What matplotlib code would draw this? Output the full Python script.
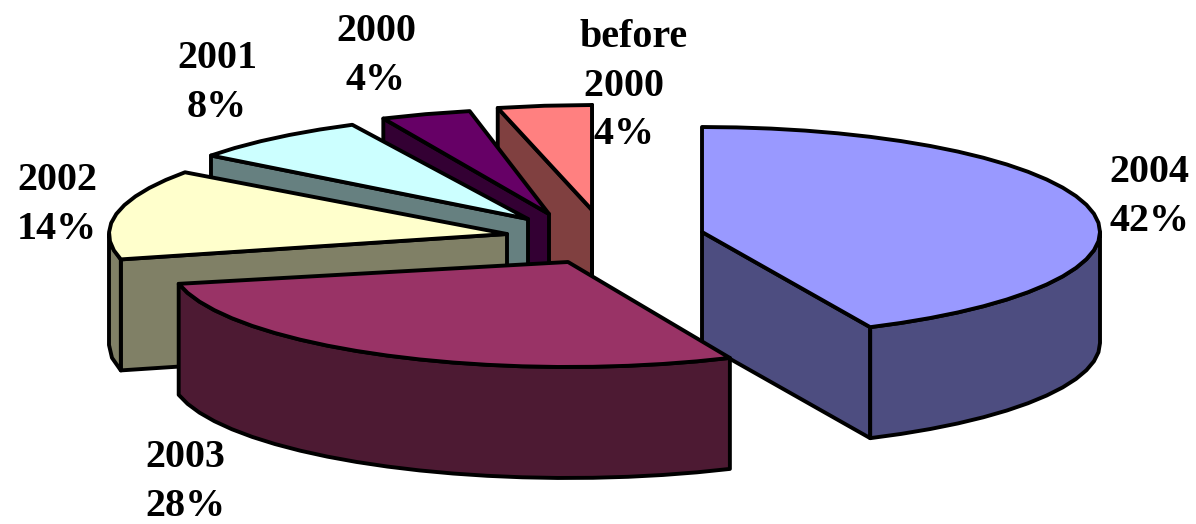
import numpy as np
import matplotlib
matplotlib.use("Agg")
import matplotlib.pyplot as plt
from matplotlib.patches import Polygon

years = ["2004", "2003", "2002", "2001", "2000", "before\n2000  "]
shares = [42, 28, 14, 8, 4, 4]
pct_labels = ["42%", "28%", "14%", "8%", "4%", "4%  "]

top_colors = ["#9999FF", "#993366", "#FFFFCC", "#CCFFFF", "#660066", "#FF8080"]
side_colors = ["#4D4D80", "#4D1A33", "#808066", "#668080", "#330033", "#804040"]

# pie geometry in pixels
cx, cy = 609, 239
rx, ry = 398, 105
depth = 111
shift_x = [93, -41, -102, -81, -60, -17]
shift_y = [-7, 23, -5, -20, -25, -29]
label_x = [1149, 185, 57, 217, 376, 634]
label_y = [197, 482, 205, 83, 56, 86]
draw_order = [5, 4, 3, 2, 0, 1]

# the 3d view bends the angles a bit, degrees added to each slice's ends
start_nudge = [0, 4.8, 4, 4.8, 4.2, 0.7]
end_nudge = [3.8, 6, 3.6, 2.6, 2.9, 0]

fig = plt.figure(figsize=(11.96, 5.24), dpi=100)
ax = fig.add_axes([0, 0, 1, 1])
ax.set_xlim(0, 1196)
ax.set_ylim(524, 0)
ax.axis("off")

edges = np.cumsum([0] + shares) * 3.6


def arc(x0, y0, t0, t1):
    n = max(2, int((t1 - t0) / 5) + 1)
    t = np.radians(np.linspace(t0, t1, n))
    return np.column_stack([x0 + rx * np.sin(t), y0 - ry * np.cos(t)])


def add_poly(pts, color, z):
    ax.add_patch(Polygon(pts, closed=True, facecolor=color, edgecolor="black",
                         linewidth=2.8, joinstyle="round", zorder=z))


for z, i in enumerate(draw_order):
    x0 = cx + shift_x[i]
    y0 = cy + shift_y[i]
    t0 = edges[i] + start_nudge[i]
    t1 = edges[i + 1] + end_nudge[i]
    base = z * 10
    drop = np.array([0, depth])

    # radial walls, only the ones facing the viewer
    for t, normal in [(t0, t0 - 90), (t1, t1 + 90)]:
        if np.cos(np.radians(normal)) < -1e-6 or t == 360:
            p = arc(x0, y0, t, t)[0]
            a = np.array([x0, y0])
            add_poly([a, p, p + drop, a + drop], side_colors[i], base + 1)

    # outer wall on the front half
    lo, hi = max(t0, 90), min(t1, 270)
    if hi > lo:
        rim = arc(x0, y0, lo, hi)
        add_poly(np.vstack([rim, rim[::-1] + drop]), side_colors[i], base + 2)

    top = np.vstack([[x0, y0], arc(x0, y0, t0, t1)])
    add_poly(top, top_colors[i], base + 3)

for i in range(len(years)):
    ax.text(label_x[i], label_y[i], years[i] + "\n" + pct_labels[i], ha="center", va="center",
            family="Liberation Serif", fontweight="bold", fontsize=28.8,
            linespacing=1.42, zorder=200)

fig.savefig("out.png", dpi=100)
